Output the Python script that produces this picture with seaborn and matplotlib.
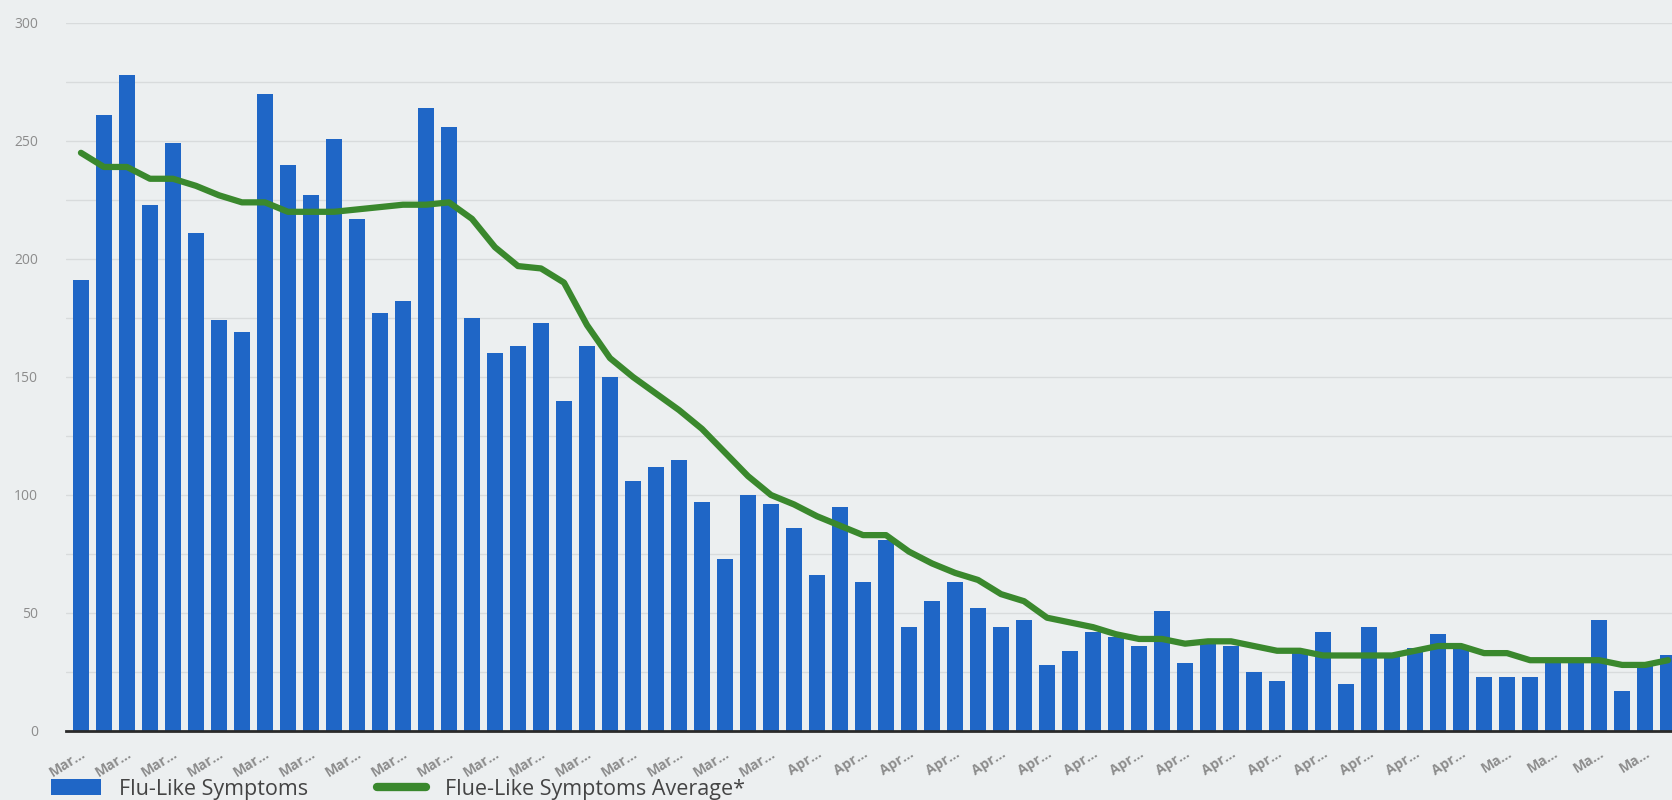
import numpy as np
import pandas as pd
import matplotlib
matplotlib.use("Agg")
import matplotlib.pyplot as plt
from matplotlib.patches import Patch
from matplotlib.lines import Line2D
from matplotlib.ticker import MultipleLocator
import seaborn as sns

# ---- data ----
dates = [d.strftime("%b %d") for d in pd.date_range("2020-03-01", periods=70)]
cases = [191, 261, 278, 223, 249, 211, 174, 169, 270, 240,
         227, 251, 217, 177, 182, 264, 256, 175, 160, 163,
         173, 140, 163, 150, 106, 112, 115, 97, 73, 100,
         96, 86, 66, 95, 63, 81, 44, 55, 63, 52,
         44, 47, 28, 34, 42, 40, 36, 51, 29, 37,
         36, 25, 21, 34, 42, 20, 44, 32, 35, 41,
         35, 23, 23, 23, 29, 29, 47, 17, 28, 32]
average = [245, 239, 239, 234, 234, 231, 227, 224, 224, 220,
           220, 220, 221, 222, 223, 223, 224, 217, 205, 197,
           196, 190, 172, 158, 150, 143, 136, 128, 118, 108,
           100, 96, 91, 87, 83, 83, 76, 71, 67, 64,
           58, 55, 48, 46, 44, 41, 39, 39, 37, 38,
           38, 36, 34, 34, 32, 32, 32, 32, 34, 36,
           36, 33, 33, 30, 30, 30, 30, 28, 28, 30]
tick_labels = ["Mar\u2026"] * 16 + ["Apr\u2026"] * 15 + ["Ma\u2026"] * 4
y_ticks = [0, 50, 100, 150, 200, 250, 300]
series_names = ["Flu-Like Symptoms", "Flue-Like Symptoms Average*"]

# ---- style ----
sns.set_theme(style="white")
plt.rcParams["font.family"] = ["Open Sans", "DejaVu Sans"]

bg = "#eceff0"
bar_color = "#1f66c6"
line_color = "#3a882d"
text_grey = "#8c8c8c"

W, H = 1672, 800
fig = plt.figure(figsize=(W / 100, H / 100), dpi=100, facecolor=bg)
ax = fig.add_axes([66 / W, (H - 731) / H, 1 - 66 / W, (731 - 23) / H])
ax.set_facecolor(bg)

df = pd.DataFrame({"date": dates, "cases": cases})
sns.barplot(data=df, x="date", y="cases", color=bar_color, saturation=1,
            width=0.72, linewidth=0, ax=ax, zorder=2)
sns.lineplot(x=np.arange(len(average)), y=average, color=line_color,
             lw=4.5, ax=ax, zorder=3)

ax.set_ylim(0, 300)
ax.set_xlim(-0.65, 69.17)
ax.set_yticks(y_ticks)
ax.yaxis.set_minor_locator(MultipleLocator(25))
ax.grid(axis="y", which="both", color="#d8dbdc", lw=1.0, zorder=0)
ax.set_axisbelow(True)
ax.set_xlabel("")
ax.set_ylabel("")

for s in ["top", "right", "left"]:
    ax.spines[s].set_visible(False)
ax.spines["bottom"].set_color("#2a2a2a")
ax.spines["bottom"].set_linewidth(2)
ax.spines["bottom"].set_zorder(4)

ax.set_xticks(range(0, len(dates), 2))
ax.set_xticklabels(tick_labels, rotation=32, ha="right", rotation_mode="anchor",
                   color=text_grey, fontsize=10, fontweight="bold")
ax.tick_params(axis="x", length=0, pad=11)
ax.tick_params(axis="y", which="both", length=0, pad=20, labelsize=10,
               labelcolor=text_grey)

handles = [Patch(facecolor=bar_color, edgecolor="none", label=series_names[0]),
           Line2D([0], [0], color=line_color, lw=6, label=series_names[1])]
fig.legend(handles=handles, loc="center left", bbox_to_anchor=(51 / W, 11 / H),
           frameon=False, ncol=2, fontsize=15.5, handlelength=2.3,
           handleheight=0.7, columnspacing=3.2, handletextpad=0.85,
           borderaxespad=0, borderpad=0, labelcolor="#444444")

fig.savefig("out.png", dpi=100, facecolor=bg)
